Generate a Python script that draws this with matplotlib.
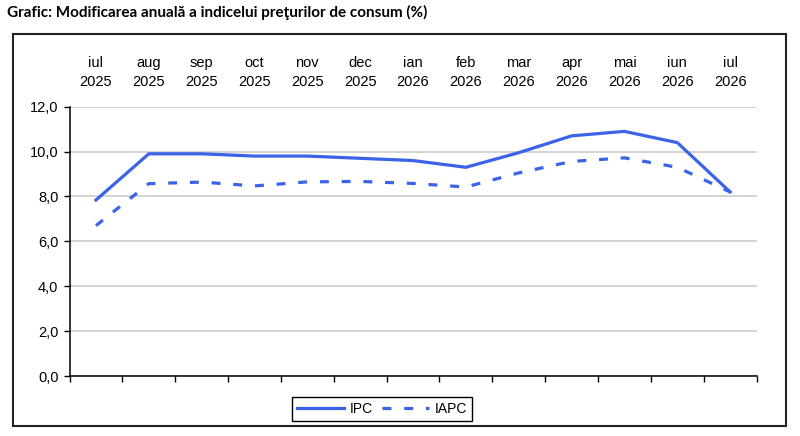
import numpy as np
import matplotlib
matplotlib.use("Agg")
import matplotlib.pyplot as plt
from matplotlib.patches import Rectangle
from matplotlib.ticker import FuncFormatter

# data
months = ["iul", "aug", "sep", "oct", "nov", "dec", "ian", "feb", "mar", "apr", "mai", "iun", "iul"]
years = ["2025", "2025", "2025", "2025", "2025", "2025", "2026", "2026", "2026", "2026", "2026", "2026", "2026"]
ipc = [7.84, 9.9, 9.9, 9.8, 9.8, 9.7, 9.6, 9.3, 9.95, 10.7, 10.9, 10.4, 8.2]
iapc = [6.7, 8.57, 8.64, 8.47, 8.65, 8.67, 8.58, 8.42, 9.05, 9.56, 9.72, 9.3, 8.2]

blue = "#3b63e8"
plt.rcParams["font.family"] = ["Liberation Sans", "DejaVu Sans"]

fig = plt.figure(figsize=(8, 4.36), dpi=100)
ax = fig.add_axes([0.0869, 0.1376, 0.8588, 0.6177])

x = np.arange(len(months))
ax.plot(x, ipc, color=blue, lw=2.3, solid_joinstyle="round", label="IPC")
ax.plot(x, iapc, color=blue, lw=2.3, linestyle=(0, (2.8, 4)), label="IAPC")

ax.set_xlim(-0.5, len(months) - 0.5)
ax.set_ylim(0, 12)
ax.set_yticks(np.arange(0, 12.1, 2))
ax.yaxis.set_major_formatter(FuncFormatter(lambda v, p: f"{v:.1f}".replace(".", ",")))
ax.set_xticks(np.arange(-0.5, len(months)))
ax.set_xticklabels([])
ax.tick_params(axis="both", direction="out", length=4, width=1, color="black", labelsize=10.5)
ax.tick_params(axis="y", pad=4)

ax.grid(axis="y", color="#c8c8c8", lw=1.1)
ax.set_axisbelow(True)
for s in ["top", "right"]:
    ax.spines[s].set_visible(False)
for s in ["left", "bottom"]:
    ax.spines[s].set_color("black")
    ax.spines[s].set_linewidth(1.1)

# month / year labels above the plot
for i in x:
    ax.text(i, 1.127, f"{months[i]}\n{years[i]}", transform=ax.get_xaxis_transform(),
            ha="center", va="center", fontsize=10.5, linespacing=1.42)

leg = ax.legend(loc="center", bbox_to_anchor=(0.4775, 0.062), bbox_transform=fig.transFigure,
                ncol=2, fancybox=False, edgecolor="black", framealpha=1, fontsize=10,
                handlelength=3.4, handletextpad=0.4, columnspacing=0.7, borderpad=0.35)
leg.get_frame().set_linewidth(1.0)

# outer frame
fig.patches.append(Rectangle((13 / 800, 1 - 426 / 436), 773 / 800, 392 / 436,
                             transform=fig.transFigure, fill=False, ec="#222222", lw=1.5))

fig.text(7 / 800, 1 - 12 / 436, "Grafic: Modificarea anuală a indicelui preţurilor de consum (%)",
         fontsize=11, fontweight="bold", family=["Lato", "DejaVu Sans"], ha="left", va="center")

fig.savefig("out.png", dpi=100)
